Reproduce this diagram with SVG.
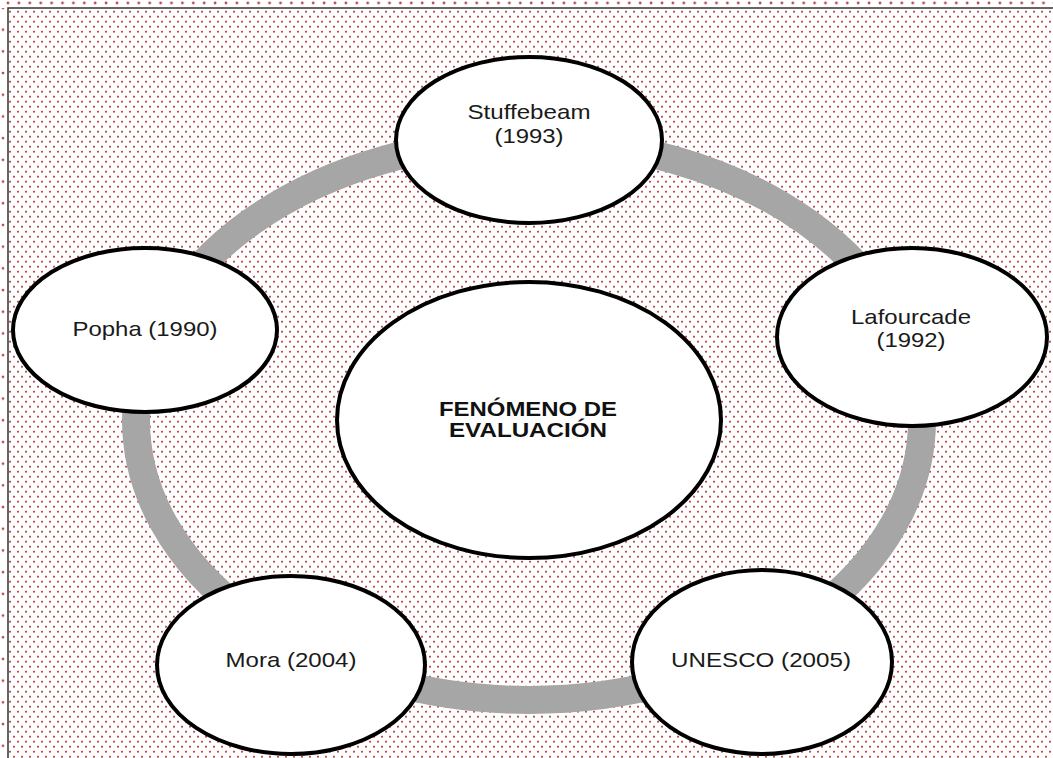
<svg xmlns="http://www.w3.org/2000/svg" width="1053" height="758" viewBox="0 0 1053 758">
<style>
.node{fill:#ffffff;stroke:#000000;stroke-width:4}
.lbl{font-family:"Liberation Sans",Arial,sans-serif;font-size:21px;fill:#1a1a1a;text-anchor:middle}
.bold{font-weight:bold;fill:#111111}
.ring{fill:none;stroke:#a6a6a6;stroke-width:28}
</style>
<defs>
<pattern id="dense" patternUnits="userSpaceOnUse" x="0" y="0" width="8" height="10">
<rect x="1" y="0.8" width="2" height="1.8" fill="#b95050"/>
<rect x="5" y="5.8" width="2" height="1.8" fill="#b95050"/>
</pattern>
<pattern id="topdots" patternUnits="userSpaceOnUse" x="0" y="0" width="10.9" height="8">
<circle cx="8" cy="3" r="1.4" fill="#b95050"/>
</pattern>
<pattern id="leftdots" patternUnits="userSpaceOnUse" x="0" y="0" width="8" height="21.7">
<circle cx="3" cy="8" r="1.4" fill="#b95050"/>
</pattern>
</defs>
<g id="background">
<rect x="0" y="0" width="1053" height="758" fill="#ffffff"/>
<rect x="0" y="0" width="1053" height="7" fill="url(#topdots)"/>
<rect x="0" y="8" width="7" height="750" fill="url(#leftdots)"/>
<rect x="9" y="9" width="1044" height="749" fill="url(#dense)"/>
<path d="M8 758 V8 H1053" fill="none" stroke="#333333" stroke-width="1.5"/>
</g>
<g id="connectors">
<ellipse class="ring" cx="529" cy="420" rx="393" ry="280"/>
</g>
<g id="node-center">
<ellipse class="node" cx="529" cy="420" rx="192" ry="138"/>
<text class="lbl bold" x="528" y="416" textLength="178" lengthAdjust="spacingAndGlyphs">FENÓMENO DE</text>
<text class="lbl bold" x="528" y="437" textLength="158" lengthAdjust="spacingAndGlyphs">EVALUACIÓN</text>
</g>
<g id="node-stuffebeam">
<ellipse class="node" cx="529" cy="140" rx="133" ry="83"/>
<text class="lbl" x="529" y="119" textLength="123" lengthAdjust="spacingAndGlyphs">Stuffebeam</text>
<text class="lbl" x="529" y="143" textLength="69" lengthAdjust="spacingAndGlyphs">(1993)</text>
</g>
<g id="node-lafourcade">
<ellipse class="node" cx="912" cy="337" rx="135" ry="89"/>
<text class="lbl" x="911" y="324" textLength="120" lengthAdjust="spacingAndGlyphs">Lafourcade</text>
<text class="lbl" x="911" y="347" textLength="69" lengthAdjust="spacingAndGlyphs">(1992)</text>
</g>
<g id="node-popha">
<ellipse class="node" cx="145" cy="330" rx="132" ry="82"/>
<text class="lbl" x="145" y="336" textLength="145" lengthAdjust="spacingAndGlyphs">Popha (1990)</text>
</g>
<g id="node-mora">
<ellipse class="node" cx="291" cy="665" rx="134" ry="89"/>
<text class="lbl" x="291" y="667" textLength="131" lengthAdjust="spacingAndGlyphs">Mora (2004)</text>
</g>
<g id="node-unesco">
<ellipse class="node" cx="762" cy="662" rx="130" ry="92"/>
<text class="lbl" x="761" y="667" textLength="180" lengthAdjust="spacingAndGlyphs">UNESCO (2005)</text>
</g>
</svg>
